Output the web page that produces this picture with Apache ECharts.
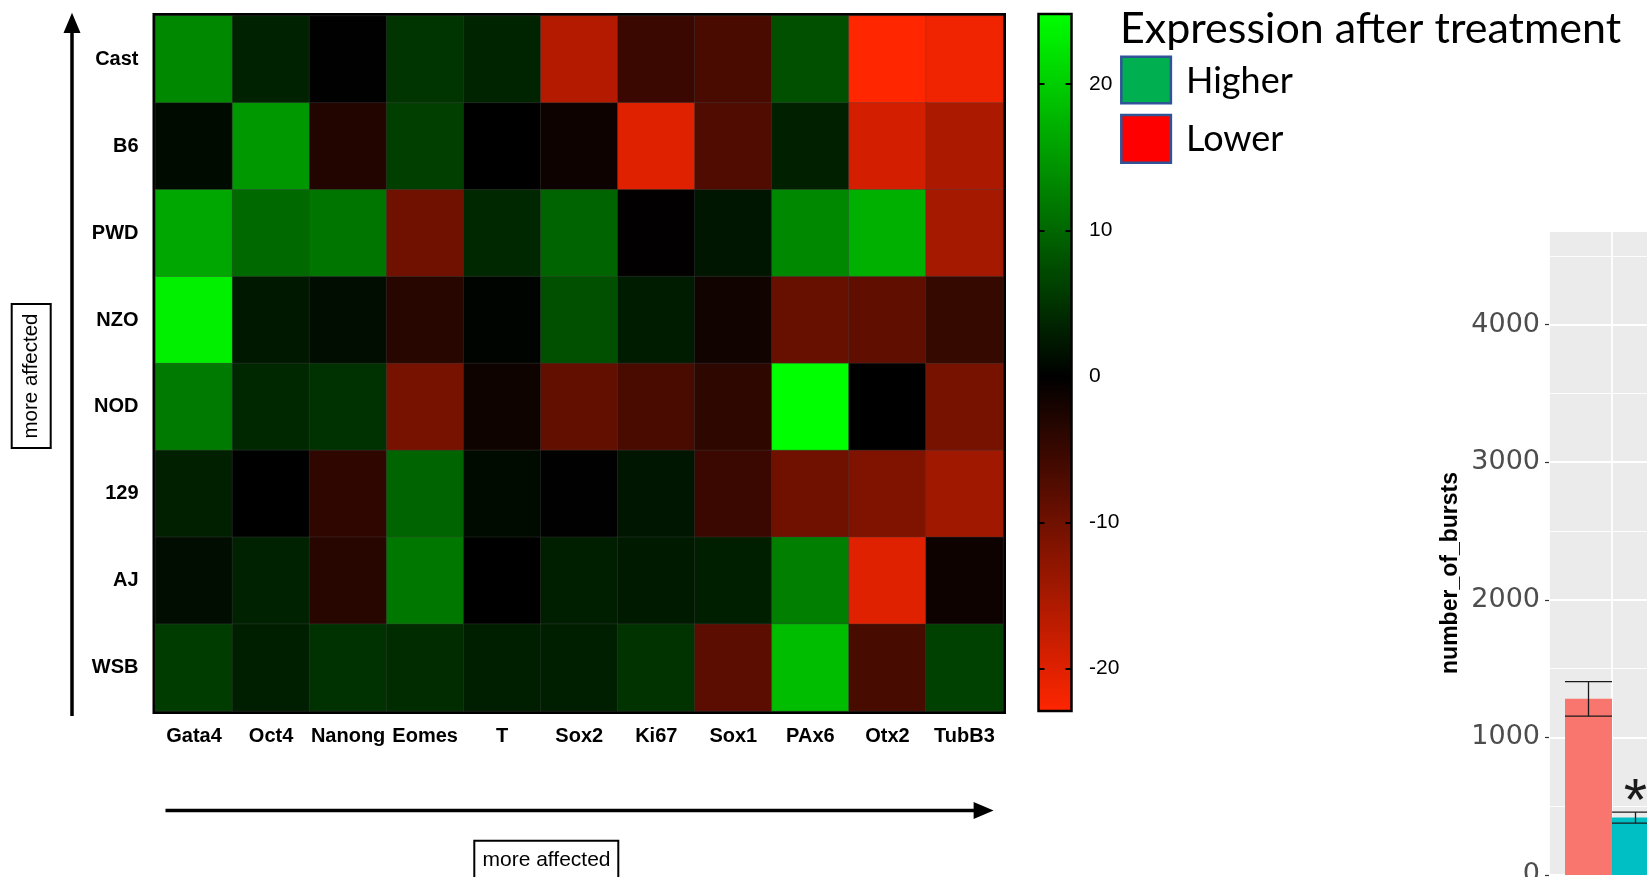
<!DOCTYPE html>
<html>
<head>
<meta charset="utf-8">
<title>Expression after treatment</title>
<script src="https://cdn.jsdelivr.net/npm/echarts@6/dist/echarts.min.js"></script>
<style>
  html, body { margin: 0; padding: 0; background: #fff; }
  #chart { width: 1647px; height: 877px; }
</style>
</head>
<body>
<div id="chart"></div>
<script>
const genes = ['Gata4', 'Oct4', 'Nanong', 'Eomes', 'T', 'Sox2', 'Ki67', 'Sox1', 'PAx6', 'Otx2', 'TubB3']
const strains = ['Cast', 'B6', 'PWD', 'NZO', 'NOD', '129', 'AJ', 'WSB']

// expression change per strain, same order as genes
const castVals = [13.4, 3.3, 0.1, 5.0, 3.5, -16.1, -5.2, -6.6, 7.8, -22.9, -21.6]
const b6Vals = [1.0, 14.8, -3.1, 6.1, 0.0, -1.1, -20.1, -7.2, 3.1, -18.9, -15.4]
const pwdVals = [16.3, 10.3, 11.5, -10.1, 3.9, 9.7, -0.2, 2.1, 13.4, 17.1, -14.8]
const nzoVals = [23.3, 2.3, 1.2, -3.6, 0.4, 7.8, 2.7, -1.4, -9.3, -8.6, -4.8]
const nodVals = [11.9, 3.9, 4.7, -10.8, -1.3, -8.8, -6.6, -4.1, 24.8, 0.0, -10.8]
const s129Vals = [3.1, 0.0, -4.3, 9.7, 1.0, 0.1, 2.1, -5.2, -10.1, -11.5, -14.4]
const ajVals = [1.2, 3.3, -3.6, 11.7, 0.0, 2.9, 2.5, 2.9, 12.4, -20.1, -1.1]
const wsbVals = [5.8, 2.9, 4.7, 4.3, 2.9, 2.9, 4.9, -8.1, 18.3, -6.5, 6.2]
const expression = [castVals, b6Vals, pwdVals, nzoVals, nodVals, s129Vals, ajVals, wsbVals]

const scaleMin = -22.9
const scaleMax = 24.8

// bar chart on the right (cut off at the page edge)
const burstGroups = ['']
const burstNames = ['control', 'treated']
const burstMeans = [1280, 417]
const burstErr = [125, 40]
const burstSig = ['', '*']

const chartDom = document.getElementById('chart')
const chart = echarts.init(chartDom, null, { renderer: 'canvas' })

// red - black - green ramp, black sits at 0
const rampColor = (v) => {
  if (v >= 0) {
    const t = v / scaleMax
    return `rgb(0,${Math.round(255 * t)},0)`
  }
  const t = v / scaleMin
  return `rgb(${Math.round(255 * t)},${Math.round(38 * t)},0)`
}
const rampStops = []
for (let i = 0; i <= 96; i++) rampStops.push(rampColor(scaleMin + (scaleMax - scaleMin) * i / 96))

const heatData = []
expression.forEach((row, r) => {
  row.forEach((v, c) => heatData.push([c, r, v]))
})

const armFont = 'Liberation Sans, Arial, sans-serif'
const legendFont = 'Lato, Carlito, Calibri, sans-serif'

const option = {
  backgroundColor: '#fff',
  animation: false,
  grid: [
    { left: 155.5, top: 16, width: 847.5, height: 695, outerBoundsMode: 'none', show: true, borderColor: '#000', borderWidth: 6, backgroundColor: '#000' },
    { left: 1038.5, top: 14, width: 33, height: 697, outerBoundsMode: 'none', show: true, borderColor: '#000', borderWidth: 2.5, backgroundColor: 'transparent', z: 10 },
    { left: 1549, top: 231, width: 126, height: 644, outerBoundsMode: 'none', show: true, borderWidth: 0, backgroundColor: '#ebebeb' }
  ],
  visualMap: {
    type: 'continuous',
    seriesIndex: 0,
    min: scaleMin,
    max: scaleMax,
    calculable: false,
    hoverLink: false,
    orient: 'vertical',
    left: 1038.5,
    top: 14,
    itemWidth: 33,
    itemHeight: 697,
    padding: 0,
    inRange: { color: rampStops }
  },
  xAxis: [
    {
      type: 'category',
      gridIndex: 0,
      data: genes,
      axisLine: { show: false },
      axisTick: { show: false },
      axisLabel: { interval: 0, margin: 15, color: '#000', fontSize: 20, fontWeight: 'bold', fontFamily: armFont }
    },
    { type: 'value', gridIndex: 1, show: false },
    {
      type: 'category',
      gridIndex: 2,
      data: burstGroups,
      axisLine: { show: false },
      axisTick: { show: false },
      axisLabel: { show: false }
    },
    {
      type: 'value',
      gridIndex: 2,
      min: 0,
      max: 2,
      interval: 1,
      axisLine: { show: false },
      axisTick: { show: false },
      axisLabel: { show: false },
      splitLine: { show: true, lineStyle: { color: '#fff', width: 1.8 } }
    }
  ],
  yAxis: [
    {
      type: 'category',
      gridIndex: 0,
      data: strains,
      inverse: true,
      axisLine: { show: false },
      axisTick: { show: false },
      axisLabel: { interval: 0, margin: 17, color: '#000', fontSize: 20, fontWeight: 'bold', fontFamily: armFont }
    },
    {
      type: 'value',
      gridIndex: 1,
      position: 'left',
      min: scaleMin,
      max: scaleMax,
      z: 10,
      axisLine: { show: false },
      axisTick: { show: true, inside: true, length: 6, lineStyle: { color: '#000', width: 2 } },
      axisLabel: { show: false },
      splitLine: { show: false }
    },
    {
      type: 'value',
      gridIndex: 1,
      position: 'right',
      min: scaleMin,
      max: scaleMax,
      z: 10,
      axisLine: { show: false },
      axisTick: { show: true, inside: true, length: 6, lineStyle: { color: '#000', width: 2 } },
      axisLabel: { margin: 17.5, color: '#000', fontSize: 21, fontFamily: armFont, showMinLabel: false, showMaxLabel: false },
      splitLine: { show: false }
    },
    {
      type: 'value',
      gridIndex: 2,
      min: 0,
      max: 4680,
      interval: 1000,
      name: 'number_of_bursts',
      nameLocation: 'middle',
      nameRotate: 90,
      nameGap: 87,
      nameTextStyle: { color: '#000', fontSize: 23, fontWeight: 'bold', fontFamily: armFont, padding: [0, 40, 0, 0] },
      axisLine: { show: false },
      axisTick: { show: true, length: 4, lineStyle: { color: '#333', width: 1.2 } },
      axisLabel: {
        margin: 9,
        color: '#4d4d4d',
        fontSize: 27,
        fontFamily: 'DejaVu Sans, sans-serif',
        showMaxLabel: false,
        formatter: (v) => String(v)
      },
      splitLine: { show: true, lineStyle: { color: '#fff', width: 1.8 } }
    },
    {
      type: 'value',
      gridIndex: 2,
      min: 0,
      max: 4680,
      interval: 500,
      axisLine: { show: false },
      axisTick: { show: false },
      axisLabel: { show: false },
      splitLine: { show: true, lineStyle: { color: '#fff', width: 0.9 } }
    }
  ],
  series: [
    {
      type: 'heatmap',
      xAxisIndex: 0,
      yAxisIndex: 0,
      data: heatData,
      itemStyle: { borderColor: 'rgba(70,70,70,0.35)', borderWidth: 1 },
      emphasis: { disabled: true }
    },
    {
      type: 'bar',
      name: burstNames[0],
      xAxisIndex: 2,
      yAxisIndex: 3,
      data: [burstMeans[0]],
      barWidth: 47,
      barGap: '0%',
      itemStyle: { color: '#F8766D' }
    },
    {
      type: 'bar',
      name: burstNames[1],
      xAxisIndex: 2,
      yAxisIndex: 3,
      data: [burstMeans[1]],
      barWidth: 47,
      barGap: '0%',
      itemStyle: { color: '#00BFC4' }
    },
    {
      type: 'custom',
      xAxisIndex: 2,
      yAxisIndex: 3,
      z: 5,
      data: burstMeans.map((m, i) => [0, m - burstErr[i], m + burstErr[i], i]),
      encode: { x: 0, y: [1, 2] },
      renderItem: (params, api) => {
        const idx = api.value(3)
        const lo = api.coord([api.value(0), api.value(1)])
        const hi = api.coord([api.value(0), api.value(2)])
        const half = 23.5
        const cx = lo[0] + (idx === 0 ? -half : half)
        const stroke = { stroke: '#1a1a1a', lineWidth: 1.3 }
        const children = [
          { type: 'line', shape: { x1: cx, y1: lo[1], x2: cx, y2: hi[1] }, style: stroke },
          { type: 'line', shape: { x1: cx - half, y1: lo[1], x2: cx + half, y2: lo[1] }, style: stroke },
          { type: 'line', shape: { x1: cx - half, y1: hi[1], x2: cx + half, y2: hi[1] }, style: stroke }
        ]
        if (burstSig[idx]) {
          children.push({
            type: 'text',
            style: { text: burstSig[idx], x: cx, y: hi[1] - 9, align: 'center', verticalAlign: 'middle', fontSize: 60, fill: '#1a1a1a', fontFamily: armFont }
          })
        }
        return { type: 'group', children }
      }
    }
  ],
  graphic: [
    // vertical "more affected" arrow
    { type: 'line', shape: { x1: 72, y1: 716, x2: 72, y2: 30 }, style: { stroke: '#000', lineWidth: 3.5 } },
    { type: 'polygon', shape: { points: [[72, 12.7], [63.5, 33], [80.5, 33]] }, style: { fill: '#000' } },
    { type: 'rect', shape: { x: 11.7, y: 304, width: 39, height: 144 }, style: { fill: 'none', stroke: '#000', lineWidth: 2 } },
    {
      type: 'text', x: 31.5, y: 376, rotation: Math.PI / 2,
      style: { text: 'more affected', align: 'center', verticalAlign: 'middle', fontSize: 20.5, fill: '#000', fontFamily: armFont }
    },
    // horizontal "more affected" arrow
    { type: 'line', shape: { x1: 165.5, y1: 810.5, x2: 978, y2: 810.5 }, style: { stroke: '#000', lineWidth: 3.5 } },
    { type: 'polygon', shape: { points: [[993.6, 810.5], [973.6, 802], [973.6, 819]] }, style: { fill: '#000' } },
    { type: 'rect', shape: { x: 474.3, y: 840.7, width: 144, height: 60 }, style: { fill: 'none', stroke: '#000', lineWidth: 2 } },
    {
      type: 'text', x: 546.5, y: 860,
      style: { text: 'more affected', align: 'center', verticalAlign: 'middle', fontSize: 21, fill: '#000', fontFamily: armFont }
    },
    // legend
    {
      type: 'text', x: 1120, y: 29,
      style: { text: 'Expression after treatment', align: 'left', verticalAlign: 'middle', fontSize: 43, fill: '#000', fontFamily: legendFont }
    },
    { type: 'rect', shape: { x: 1121.3, y: 56.7, width: 49.6, height: 46.6 }, style: { fill: '#00b050', stroke: '#2f5597', lineWidth: 2.5 } },
    { type: 'rect', shape: { x: 1121.3, y: 115, width: 49.6, height: 47.7 }, style: { fill: '#ff0000', stroke: '#2f5597', lineWidth: 2.5 } },
    {
      type: 'text', x: 1186, y: 81.5,
      style: { text: 'Higher', align: 'left', verticalAlign: 'middle', fontSize: 36, fill: '#000', fontFamily: legendFont }
    },
    {
      type: 'text', x: 1186, y: 139.5,
      style: { text: 'Lower', align: 'left', verticalAlign: 'middle', fontSize: 36, fill: '#000', fontFamily: legendFont }
    }
  ]
}

chart.setOption(option)

window.addEventListener('resize', () => {
  chart.resize()
})
</script>
</body>
</html>
